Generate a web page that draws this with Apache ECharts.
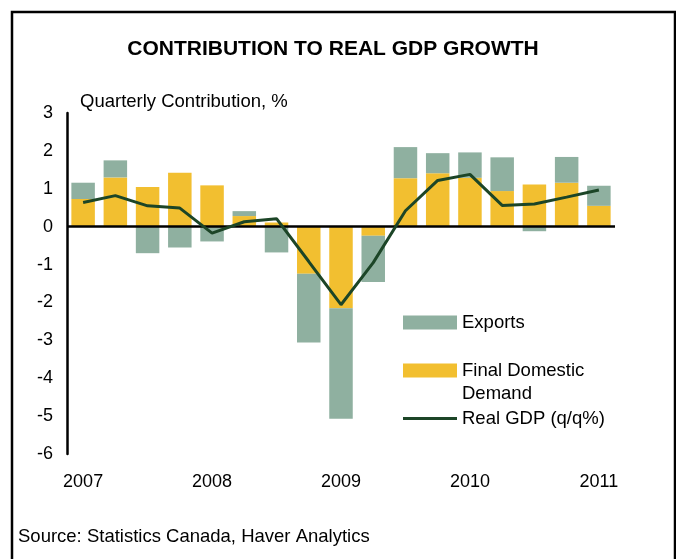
<!DOCTYPE html>
<html>
<head>
<meta charset="utf-8">
<script src="https://cdn.jsdelivr.net/npm/echarts@6/dist/echarts.min.js"></script>
<style>
  html, body { margin: 0; padding: 0; background: #fff; }
  #chart { width: 676px; height: 559px; }
</style>
</head>
<body>
<div id="chart"></div>
<script>
// Quarterly contributions, 2007Q1 .. 2011Q1
const quarters = ["2007Q1", "2007Q2", "2007Q3", "2007Q4", "2008Q1", "2008Q2", "2008Q3", "2008Q4",
  "2009Q1", "2009Q2", "2009Q3", "2009Q4", "2010Q1", "2010Q2", "2010Q3", "2010Q4", "2011Q1"];
const finalDomesticDemand = [0.73, 1.30, 1.05, 1.42, 1.09, 0.28, 0.11, -1.24, -2.15, -0.24, 1.28, 1.41, 1.29, 0.94, 1.11, 1.16, 0.55];
const exportsContrib = [0.43, 0.45, -0.70, -0.55, -0.39, 0.13, -0.68, -1.82, -2.92, -1.22, 0.82, 0.53, 0.67, 0.89, -0.12, 0.68, 0.53];
const realGdp = [0.64, 0.82, 0.55, 0.49, -0.17, 0.13, 0.21, -0.92, -2.06, -0.95, 0.42, 1.22, 1.38, 0.56, 0.60, 0.78, 0.97];
const yearTicks = ["2007", "2008", "2009", "2010", "2011"];

const FONT = "'Liberation Sans', Arial, sans-serif";
const YELLOW = "#f2bf30";
const GREY = "#8fb0a0";
const LINE = "#1c4527";

const chart = echarts.init(document.getElementById("chart"));

// legends are split in three so each row can sit where the reference puts it
const legendBase = {
  orient: "vertical", left: 403, padding: 0,
  itemWidth: 54, itemHeight: 14, itemGap: 0,
  icon: "rect",
  selectedMode: false,
  textStyle: { fontFamily: FONT, fontSize: 18.5, color: "#000" },
};

chart.setOption({
  animation: false,
  title: {
    text: "CONTRIBUTION TO REAL GDP GROWTH",
    left: 328, top: 34, textAlign: "center",
    textStyle: { fontFamily: FONT, fontSize: 21, fontWeight: "bold", color: "#000" },
  },
  graphic: [
    { type: "rect", shape: { x: 12, y: 12, width: 663, height: 600 }, style: { fill: null, stroke: "#000", lineWidth: 2.5 }, silent: true },
    { type: "text", left: 80, top: 92, style: { text: "Quarterly Contribution, %", font: "18.5px " + FONT, fill: "#000" } },
    { type: "text", left: 18, top: 527, style: { text: "Source: Statistics Canada, Haver Analytics", font: "18.5px " + FONT, fill: "#000" } },
  ],
  legend: [
    Object.assign({}, legendBase, { top: 313, data: ["Exports"] }),
    Object.assign({}, legendBase, {
      // empty first line keeps "Final Domestic" level with the swatch
      top: 336, data: ["Final Domestic Demand"],
      formatter: () => "\nFinal Domestic\nDemand",
      textStyle: Object.assign({}, legendBase.textStyle, { lineHeight: 23 }),
    }),
    Object.assign({}, legendBase, { top: 409, itemHeight: 3, data: ["Real GDP (q/q%)"] }),
  ],
  grid: { left: 67, right: 61, top: 113, bottom: 105 },
  xAxis: {
    type: "category",
    data: quarters,
    axisLine: { show: false, onZero: false },
    axisTick: { show: false },
    axisLabel: {
      interval: (i) => i % 4 === 0,
      formatter: (v, i) => yearTicks[i / 4],
      margin: 19,
      fontFamily: FONT, fontSize: 18, color: "#000",
    },
  },
  yAxis: {
    type: "value",
    min: -6, max: 3, interval: 1,
    splitLine: { show: false },
    axisTick: { show: false },
    axisLine: { show: true, lineStyle: { color: "#000", width: 2.5 } },
    axisLabel: { margin: 14, fontFamily: FONT, fontSize: 18, color: "#000" },
  },
  series: [
    {
      name: "Final Domestic Demand", type: "bar", stack: "total",
      data: finalDomesticDemand, barWidth: 23.5,
      itemStyle: { color: YELLOW },
    },
    {
      name: "Exports", type: "bar", stack: "total",
      data: exportsContrib, barWidth: 23.5,
      itemStyle: { color: GREY },
      markLine: {
        silent: true, symbol: "none", label: { show: false },
        lineStyle: { color: "#000", width: 2.5, type: "solid" },
        data: [{ yAxis: 0 }],
      },
    },
    {
      name: "Real GDP (q/q%)", type: "line",
      data: realGdp, symbol: "none", z: 5,
      lineStyle: { color: LINE, width: 3 },
      itemStyle: { color: LINE },
    },
  ],
});
</script>
</body>
</html>
